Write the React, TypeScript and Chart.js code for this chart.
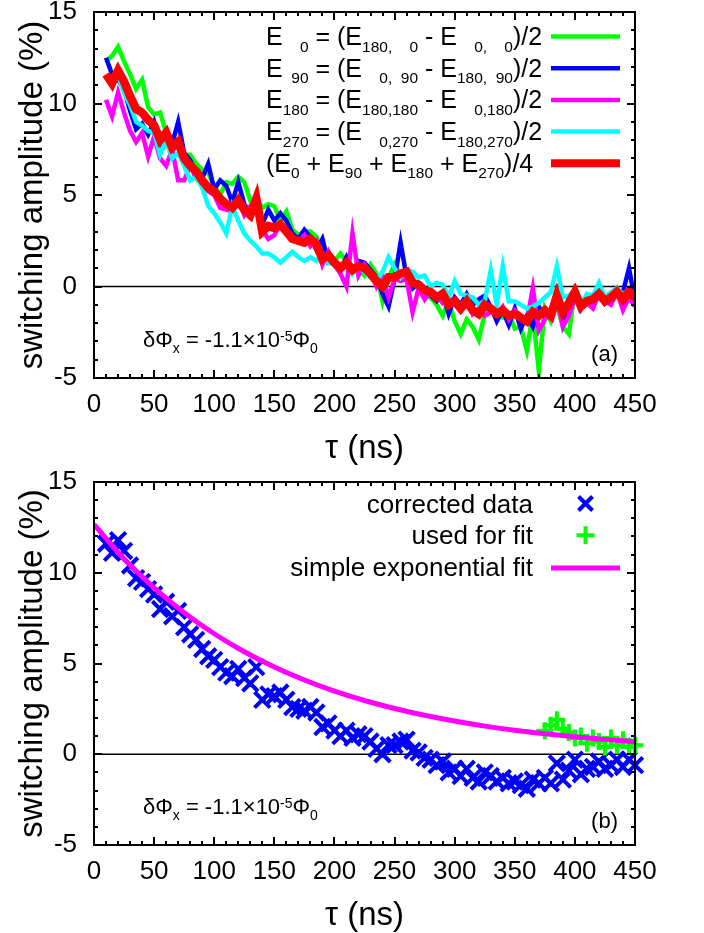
import React, { useEffect, useRef } from "react";
import { Chart, registerables } from "chart.js";

Chart.register(...registerables);

const FONT = "'Liberation Sans', Arial, Helvetica, sans-serif";

// ---- data (tau in ns, amplitudes in %) ----
const TAU = [
  10, 15, 20, 25, 30, 35, 40, 45, 50, 55,
  60, 65, 70, 75, 80, 85, 90, 95, 100, 105,
  110, 115, 120, 125, 130, 135, 140, 145, 150, 155,
  160, 165, 170, 175, 180, 185, 190, 195, 200, 205,
  210, 215, 220, 225, 230, 235, 240, 245, 250, 255,
  260, 265, 270, 275, 280, 285, 290, 295, 300, 305,
  310, 315, 320, 325, 330, 335, 340, 345, 350, 355,
  360, 365, 370, 375, 380, 385, 390, 395, 400, 405,
  410, 415, 420, 425, 430, 435, 440, 445, 450,
];

const E_0 = [
  12.3, 12.6, 13.1, 12.3, 11.6, 10.8, 11.3, 9.8, 9.4, 9.5,
  8.4, 8.1, 8.0, 7.2, 7.2, 6.7, 6.4, 6.2, 5.5, 5.0,
  5.7, 5.6, 6.0, 5.7, 4.7, 4.8, 4.3, 4.5, 4.4, 3.6,
  4.1, 3.1, 2.8, 3.0, 3.0, 2.7, 1.8, 1.9, 1.4, 1.8,
  1.4, 1.1, 1.0, 0.6, 1.2, 0.7, -0.8, 0.5, 1.2, 0.6,
  0.9, 0.5, -0.2, -0.4, -0.6, -1.0, -1.6, -0.8, -1.9, -2.6,
  -1.8, -2.2, -2.9, -1.5, -1.3, -1.6, -1.7, -1.5, -2.3, -2.2,
  -3.5, -1.5, -4.6, -1.2, -1.9, -1.0, -2.2, -2.6, -0.2, -0.8,
  -0.8, -0.5, -0.2, -0.8, -0.5, -0.1, -0.7, -0.4, 0.0,
];

const E_90 = [
  12.5, 11.6, 11.3, 10.8, 9.6, 8.6, 8.9, 8.3, 9.0, 7.8,
  8.5, 7.8, 9.0, 7.3, 6.9, 6.2, 5.9, 6.7, 5.3, 5.8,
  5.5, 4.6, 5.7, 4.5, 4.0, 4.6, 3.4, 4.2, 3.6, 4.0,
  3.6, 2.9, 2.6, 3.1, 2.7, 2.0, 2.6, 1.3, 1.4, 0.9,
  1.6, 0.8, 1.4, 1.3, 0.9, 0.5, -0.4, -1.1, 0.4, 2.4,
  0.5, -0.1, 0.2, -0.1, -0.5, -0.8, -0.3, -1.5, -0.6, -1.0,
  -0.4, -1.0, -0.7, -0.5, -1.1, -1.9, -1.3, -2.1, -1.2, -2.3,
  -1.6, -2.2, -1.1, -1.7, -1.3, -0.3, -2.0, -0.6, -0.2, -1.2,
  -0.5, -0.7, -0.3, -0.9, -0.5, -0.4, -0.3, 1.0, -0.8,
];

const E_180 = [
  10.2, 9.3, 10.6, 9.5, 8.5, 7.9, 8.4, 7.1, 8.2, 7.0,
  6.6, 7.5, 5.8, 5.8, 6.6, 5.9, 5.6, 5.2, 5.0, 4.3,
  4.2, 4.1, 4.8, 3.9, 4.4, 4.2, 3.1, 2.6, 2.8, 3.4,
  2.9, 2.6, 2.4, 2.8, 2.2, 2.5, 1.2, 1.9, 1.2, 0.7,
  0.0, 2.9, 0.6, 1.2, 0.8, 0.0, 0.6, -0.6, 0.4, 0.3,
  0.4, -1.4, -0.1, -0.7, -0.2, -0.5, -0.9, -0.6, -0.9, -1.1,
  -0.6, -1.5, -1.2, -1.6, -1.4, -1.5, -1.1, -1.8, -1.3, -1.6,
  -1.9, -0.1, -2.4, -1.8, -1.4, -0.6, -2.2, -1.6, -0.6, -0.9,
  -0.9, -1.2, -0.4, -0.8, -1.0, -0.3, -1.3, -0.6, -1.1,
];

const E_270 = [
  11.4, 11.0, 11.5, 10.6, 9.9, 9.0, 8.8, 8.5, 8.4, 7.2,
  8.0, 7.0, 7.3, 6.6, 5.8, 6.0, 5.4, 4.4, 4.0, 3.5,
  2.9, 4.4, 3.6, 2.9, 2.5, 2.2, 1.8, 1.8, 1.6, 1.3,
  1.6, 1.9, 1.6, 1.4, 1.6, 1.4, 1.8, 1.3, 1.2, 1.0,
  1.3, 0.7, 1.0, 0.8, 0.5, 0.3, 0.8, 1.6, 1.0, 0.5,
  0.9, 0.8, 0.5, 0.6, 0.0, 0.2, 0.1, -0.6, 0.3, -0.4,
  -0.5, -0.6, -1.0, -0.8, 0.9, -1.0, 1.1, -0.8, -0.8, -1.0,
  -1.2, -1.1, -0.9, -0.6, -0.3, 1.1, -0.6, -0.5, -0.2, -1.0,
  -0.4, -0.5, 0.2, -0.6, -0.3, -0.1, -0.4, -0.2, -0.4,
];

// average (E0+E90+E180+E270)/4 == corrected data in panel (b)
const E_AVG = [
  11.6, 11.1, 11.8, 11.2, 10.4, 9.7, 9.5, 9.1, 8.8, 8.0,
  8.4, 7.6, 7.9, 7.0, 6.6, 6.3, 5.8, 5.4, 5.2, 4.8,
  4.5, 4.3, 4.7, 4.2, 3.9, 4.8, 3.0, 3.3, 3.2, 3.4,
  3.0, 2.6, 2.5, 2.4, 2.6, 2.3, 1.5, 1.7, 1.3, 1.0,
  1.3, 0.9, 1.1, 1.0, 0.7, 0.3, 0.0, 0.5, 0.5, 0.7,
  0.8, 0.2, 0.1, -0.2, -0.3, -0.6, -0.4, -1.0, -0.8, -1.2,
  -0.8, -1.3, -1.5, -1.0, -1.2, -1.5, -1.3, -1.6, -1.5, -1.7,
  -1.9, -1.4, -1.6, -1.3, -1.6, -0.5, -1.4, -0.9, -0.3, -1.1,
  -0.8, -0.7, -0.4, -0.8, -0.6, -0.3, -0.7, -0.3, -0.6,
];

const FIT_TAU = [375, 380, 385, 390, 395, 400, 405, 410, 415, 420, 425, 430, 435, 440, 445, 450];
const FIT_USED = [1.3, 1.6, 1.9, 1.4, 1.2, 0.9, 1.0, 0.6, 0.9, 0.7, 0.4, 0.9, 0.5, 0.8, 0.4, 0.5];

const EXP_TAU = [0, 25, 50, 75, 100, 125, 150, 175, 200, 225, 250, 275, 300, 325, 350, 375, 400, 425, 450];
const EXP_FIT = [12.66, 10.77, 9.17, 7.8, 6.64, 5.65, 4.81, 4.09, 3.48, 2.96, 2.52, 2.15, 1.83, 1.55, 1.32, 1.13, 0.96, 0.82, 0.69];

const X_TICKS = [0, 50, 100, 150, 200, 250, 300, 350, 400, 450];
const Y_TICKS = [-5, 0, 5, 10, 15];

const GREEN = "#00ff00";
const BLUE = "#0000ff";
const MAGENTA = "#ff00ff";
const CYAN = "#00ffff";
const RED = "#ff0000";

type Seg = [string, ("sub" | "sup")?];

const LEGEND_A: { color: string; width: number; segs: Seg[] }[] = [
  { color: GREEN, width: 4.5, segs: [["E"], ["  0", "sub"], [" = (E"], ["180,  0", "sub"], [" - E"], ["  0,  0", "sub"], [")/2"]] },
  { color: BLUE, width: 4.5, segs: [["E"], [" 90", "sub"], [" = (E"], ["  0, 90", "sub"], [" - E"], ["180, 90", "sub"], [")/2"]] },
  { color: MAGENTA, width: 4.5, segs: [["E"], ["180", "sub"], [" = (E"], ["180,180", "sub"], [" - E"], ["  0,180", "sub"], [")/2"]] },
  { color: CYAN, width: 4.5, segs: [["E"], ["270", "sub"], [" = (E"], ["  0,270", "sub"], [" - E"], ["180,270", "sub"], [")/2"]] },
  { color: RED, width: 8, segs: [["(E"], ["0", "sub"], [" + E"], ["90", "sub"], [" + E"], ["180", "sub"], [" + E"], ["270", "sub"], [")/4"]] },
];

const NOTE: Seg[] = [["δΦ"], ["x", "sub"], [" = -1.1×10"], ["-5", "sup"], ["Φ"], ["0", "sub"]];

function drawRich(
  ctx: CanvasRenderingContext2D,
  segs: Seg[],
  x: number,
  y: number,
  o: { main: number; sub: number; subDy: number; supDy: number; align: "left" | "right" }
) {
  const mainF = `${o.main}px ${FONT}`;
  const subF = `${o.sub}px ${FONT}`;
  const segW = (s: Seg) => {
    if (!s[1]) {
      ctx.font = mainF;
      return ctx.measureText(s[0]).width;
    }
    ctx.font = subF;
    let w = 0;
    for (const ch of s[0]) w += ctx.measureText(ch === " " ? "0" : ch).width;
    return w;
  };
  const total = segs.reduce((a, s) => a + segW(s), 0);
  let cx = o.align === "right" ? x - total : x;
  ctx.textAlign = "left";
  ctx.textBaseline = "alphabetic";
  ctx.fillStyle = "#000";
  for (const s of segs) {
    if (!s[1]) {
      ctx.font = mainF;
      ctx.fillText(s[0], cx, y);
      cx += ctx.measureText(s[0]).width;
    } else {
      ctx.font = subF;
      const dy = s[1] === "sub" ? o.subDy : o.supDy;
      for (const ch of s[0]) {
        const cw = ctx.measureText(ch === " " ? "0" : ch).width;
        if (ch !== " ") ctx.fillText(ch, cx, y + dy);
        cx += cw;
      }
    }
  }
}

const framePlugin = {
  id: "gpframe",
  beforeDatasetsDraw(chart: any) {
    const { ctx, chartArea: a, scales } = chart;
    const y0 = scales.y.getPixelForValue(0);
    ctx.save();
    ctx.strokeStyle = "#000";
    ctx.lineWidth = 1.3;
    ctx.beginPath();
    ctx.moveTo(a.left, y0);
    ctx.lineTo(a.right, y0);
    ctx.stroke();
    ctx.restore();
  },
  afterDatasetsDraw(chart: any) {
    const { ctx, chartArea: a, scales } = chart;
    const xs = scales.x;
    const ys = scales.y;
    ctx.save();
    ctx.strokeStyle = "#000";
    ctx.lineWidth = 2;
    ctx.lineCap = "butt";
    ctx.beginPath();
    for (let v = 10; v < 450; v += 10) {
      const px = Math.round(xs.getPixelForValue(v));
      const len = v % 50 === 0 ? 8 : 4;
      ctx.moveTo(px, a.bottom);
      ctx.lineTo(px, a.bottom - len);
      ctx.moveTo(px, a.top);
      ctx.lineTo(px, a.top + len);
    }
    for (let v = -4; v < 15; v += 1) {
      const py = Math.round(ys.getPixelForValue(v));
      const len = v % 5 === 0 ? 8 : 4;
      ctx.moveTo(a.left, py);
      ctx.lineTo(a.left + len, py);
      ctx.moveTo(a.right, py);
      ctx.lineTo(a.right - len, py);
    }
    ctx.stroke();
    ctx.lineWidth = 2;
    ctx.strokeRect(a.left, a.top, a.right - a.left, a.bottom - a.top);
    ctx.restore();
  },
};

function makeScales() {
  return {
    x: {
      type: "linear",
      min: 0,
      max: 450,
      afterBuildTicks: (s: any) => {
        s.ticks = X_TICKS.map((v) => ({ value: v }));
      },
      afterFit: (s: any) => {
        s.height = 88;
        s.paddingLeft = 0;
        s.paddingRight = 0;
      },
      grid: { display: false, drawTicks: false },
      border: { display: false },
      ticks: {
        color: "#000",
        autoSkip: false,
        maxRotation: 0,
        padding: 14,
        font: { family: FONT, size: 26, lineHeight: 1 },
      },
      title: {
        display: true,
        text: "τ (ns)",
        color: "#000",
        font: { family: FONT, size: 33, lineHeight: 1 },
        padding: { top: 0, bottom: 1 },
      },
    },
    y: {
      type: "linear",
      min: -5,
      max: 15,
      afterBuildTicks: (s: any) => {
        s.ticks = Y_TICKS.map((v) => ({ value: v }));
      },
      afterFit: (s: any) => {
        s.width = 94;
        s.paddingTop = 0;
        s.paddingBottom = 0;
      },
      grid: { display: false, drawTicks: false },
      border: { display: false },
      ticks: {
        color: "#000",
        padding: 17,
        font: { family: FONT, size: 26, lineHeight: 1 },
      },
      title: {
        display: true,
        text: "switching amplitude (%)",
        color: "#000",
        font: { family: FONT, size: 33, lineHeight: 1 },
        padding: { top: 16, bottom: 0 },
      },
    },
  };
}

function pts(xs: number[], ys: number[]) {
  return xs.map((x, i) => ({ x, y: ys[i] }));
}

function lineSet(label: string, xs: number[], ys: number[], color: string, width: number, order: number) {
  return {
    label,
    data: pts(xs, ys),
    borderColor: color,
    backgroundColor: color,
    borderWidth: width,
    pointRadius: 0,
    tension: 0,
    fill: false,
    order,
    borderJoinStyle: "miter",
    borderCapStyle: "butt",
  };
}

function noteAndTag(ctx: CanvasRenderingContext2D, tag: string) {
  drawRich(ctx, NOTE, 143, 347, { main: 22, sub: 14, subDy: 6, supDy: -6, align: "left" });
  ctx.font = `22px ${FONT}`;
  ctx.textAlign = "right";
  ctx.textBaseline = "alphabetic";
  ctx.fillStyle = "#000";
  ctx.fillText(tag, 618, 361);
}

const extrasA = {
  id: "extrasA",
  afterDraw(chart: any) {
    const ctx: CanvasRenderingContext2D = chart.ctx;
    ctx.save();
    LEGEND_A.forEach((row, i) => {
      const base = 45 + i * 31.7;
      drawRich(ctx, row.segs, 266, base, { main: 25, sub: 15.5, subDy: 6.5, supDy: -9, align: "left" });
      ctx.strokeStyle = row.color;
      ctx.lineWidth = row.width;
      ctx.lineCap = "butt";
      ctx.beginPath();
      ctx.moveTo(551, base - 8.5);
      ctx.lineTo(620, base - 8.5);
      ctx.stroke();
    });
    noteAndTag(ctx, "(a)");
    ctx.restore();
  },
};

const LEGEND_B = ["corrected data", "used for fit", "simple exponential fit"];

const extrasB = {
  id: "extrasB",
  afterDraw(chart: any) {
    const ctx: CanvasRenderingContext2D = chart.ctx;
    ctx.save();
    ctx.font = `26px ${FONT}`;
    ctx.textAlign = "right";
    ctx.textBaseline = "alphabetic";
    ctx.fillStyle = "#000";
    LEGEND_B.forEach((t, i) => ctx.fillText(t, 533, 45.5 + i * 31.7));
    // symbols
    ctx.lineWidth = 4;
    ctx.lineCap = "butt";
    let cx = 585.5, cy = 45.5 - 9;
    ctx.strokeStyle = BLUE;
    ctx.beginPath();
    ctx.moveTo(cx - 7, cy - 7);
    ctx.lineTo(cx + 7, cy + 7);
    ctx.moveTo(cx - 7, cy + 7);
    ctx.lineTo(cx + 7, cy - 7);
    ctx.stroke();
    cy = 45.5 + 31.7 - 9;
    ctx.strokeStyle = GREEN;
    ctx.beginPath();
    ctx.moveTo(cx - 9, cy);
    ctx.lineTo(cx + 9, cy);
    ctx.moveTo(cx, cy - 9);
    ctx.lineTo(cx, cy + 9);
    ctx.stroke();
    cy = 45.5 + 63.4 - 8;
    ctx.strokeStyle = MAGENTA;
    ctx.lineWidth = 5;
    ctx.beginPath();
    ctx.moveTo(551, cy);
    ctx.lineTo(620, cy);
    ctx.stroke();
    noteAndTag(ctx, "(b)");
    ctx.restore();
  },
};

function baseOptions() {
  return {
    responsive: false,
    animation: false,
    events: [],
    layout: { padding: { top: 12, right: 69, left: 0, bottom: 0 } },
    plugins: { legend: { display: false }, tooltip: { enabled: false }, title: { display: false } },
    scales: makeScales(),
  };
}

export default function App() {
  const refA = useRef<HTMLCanvasElement>(null);
  const refB = useRef<HTMLCanvasElement>(null);

  useEffect(() => {
    const chartA = new Chart(refA.current as HTMLCanvasElement, {
      type: "line",
      data: {
        datasets: [
          lineSet("(E0 + E90 + E180 + E270)/4", TAU, E_AVG, RED, 8.5, 0),
          lineSet("E270", TAU, E_270, CYAN, 4.5, 1),
          lineSet("E180", TAU, E_180, MAGENTA, 4.5, 2),
          lineSet("E90", TAU, E_90, BLUE, 4.5, 3),
          lineSet("E0", TAU, E_0, GREEN, 4.5, 4),
        ],
      } as any,
      options: baseOptions() as any,
      plugins: [framePlugin, extrasA] as any,
    });

    const chartB = new Chart(refB.current as HTMLCanvasElement, {
      type: "line",
      data: {
        datasets: [
          {
            label: "simple exponential fit",
            data: pts(EXP_TAU, EXP_FIT),
            borderColor: MAGENTA,
            borderWidth: 5,
            pointRadius: 0,
            cubicInterpolationMode: "monotone",
            fill: false,
            order: 0,
          },
          {
            label: "used for fit",
            data: pts(FIT_TAU, FIT_USED),
            showLine: false,
            pointStyle: "cross",
            pointRadius: 8.5,
            pointBorderWidth: 4,
            pointBorderColor: GREEN,
            pointBackgroundColor: GREEN,
            borderColor: GREEN,
            clip: false,
            order: 1,
          },
          {
            label: "corrected data",
            data: pts(TAU, E_AVG),
            showLine: false,
            pointStyle: "crossRot",
            pointRadius: 11,
            pointBorderWidth: 4,
            pointBorderColor: BLUE,
            pointBackgroundColor: BLUE,
            borderColor: BLUE,
            clip: false,
            order: 2,
          },
        ],
      } as any,
      options: baseOptions() as any,
      plugins: [framePlugin, extrasB] as any,
    });

    return () => {
      chartA.destroy();
      chartB.destroy();
    };
  }, []);

  return (
    <div style={{ position: "absolute", left: 0, top: 0, width: 704, height: 933, background: "#fff" }}>
      <canvas ref={refA} width={704} height={466} style={{ position: "absolute", left: 0, top: 0 }} />
      <canvas ref={refB} width={704} height={466} style={{ position: "absolute", left: 0, top: 467 }} />
    </div>
  );
}
